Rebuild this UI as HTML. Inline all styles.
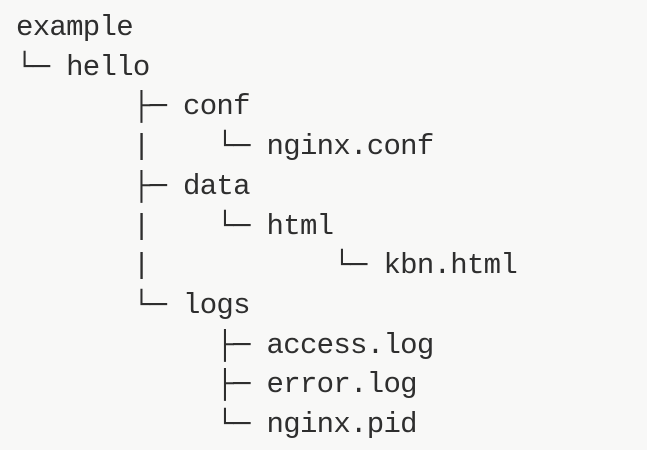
<!DOCTYPE html>
<html><head><meta charset="utf-8"><style>
html,body{margin:0;padding:0;background:#f8f8f7;width:647px;height:450px;overflow:hidden}
pre{position:absolute;left:16px;top:8px;margin:0;font-family:"Liberation Mono","DejaVu Sans Mono",monospace;font-size:29px;letter-spacing:-0.7px;line-height:39.7px;color:#2e2e2e;}
</style></head><body>
<pre>example
└─ hello
       ├─ conf
       |    └─ nginx.conf
       ├─ data
       |    └─ html
       |           └─ kbn.html
       └─ logs
            ├─ access.log
            ├─ error.log
            └─ nginx.pid</pre>
</body></html>
